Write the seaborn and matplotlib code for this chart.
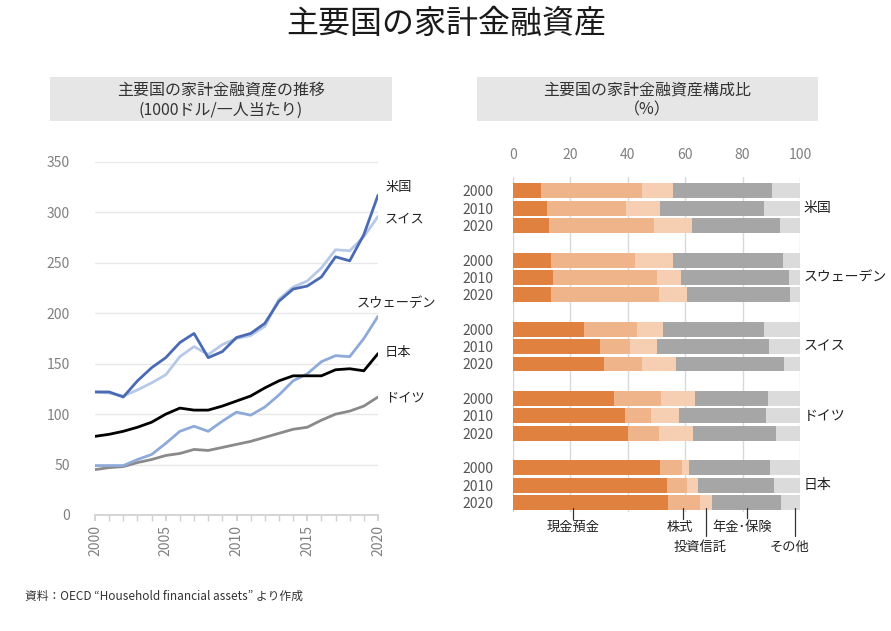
import numpy as np
import pandas as pd
import matplotlib
matplotlib.use("Agg")
import matplotlib.pyplot as plt
from matplotlib.patches import Rectangle
from matplotlib.ticker import MultipleLocator
import seaborn as sns

# ---------------- data ----------------
years = list(range(2000, 2021))
us = [122, 122, 117, 133, 146, 156, 171, 180, 156, 162, 176, 180, 190, 212, 224, 227, 236, 256, 252, 278, 317]
swiss = [122, 121, 118, 124, 131, 139, 157, 167, 159, 169, 175, 178, 187, 214, 226, 232, 245, 263, 262, 276, 296]
sweden = [49, 49, 49, 55, 60, 71, 83, 88, 83, 93, 102, 99, 107, 119, 133, 140, 152, 158, 157, 175, 197]
japan = [78, 80, 83, 87, 92, 100, 106, 104, 104, 108, 113, 118, 126, 133, 138, 138, 138, 144, 145, 143, 160]
germany = [45, 47, 48, 52, 55, 59, 61, 65, 64, 67, 70, 73, 77, 81, 85, 87, 94, 100, 103, 108, 117]
line_countries = ["ドイツ", "スウェーデン", "日本", "スイス", "米国"]
line_values = [germany, sweden, japan, swiss, us]

bar_countries = ["米国", "スウェーデン", "スイス", "ドイツ", "日本"]
bar_years = ["2000", "2010", "2020"]
categories = ["現金預金", "株式", "投資信託", "年金･保険", "その他"]
# shares (%) per country/year, order: cash, stocks, funds, pension, other
cash = [9.9, 12.0, 12.4, 13.1, 14.0, 13.1, 24.8, 30.2, 31.7, 35.1, 39.1, 39.9, 51.2, 53.5, 54.1]
stocks = [34.9, 27.5, 36.8, 29.3, 36.2, 37.8, 18.5, 10.7, 13.2, 16.4, 8.9, 11.1, 7.6, 7.0, 11.0]
funds = [11.0, 11.8, 13.0, 13.2, 8.3, 9.6, 8.8, 9.3, 12.0, 11.8, 9.9, 11.7, 2.6, 4.0, 4.1]
pension = [34.5, 36.3, 30.7, 38.6, 37.5, 36.0, 35.3, 38.9, 37.6, 25.4, 30.2, 28.9, 28.0, 26.5, 24.1]
other = [9.7, 12.4, 7.1, 5.8, 4.0, 3.5, 12.6, 10.9, 5.5, 11.3, 11.9, 8.4, 10.6, 9.0, 6.7]

line_colors = {"米国": "#4a6ab4", "スイス": "#b7c9e8", "スウェーデン": "#8eaad9",
               "日本": "#000000", "ドイツ": "#8a8a8a"}
seg_colors = ["#e0813f", "#f0b48b", "#f6cfb3", "#a6a6a6", "#dbdbdb"]

# ---------------- style ----------------
sns.set_theme(style="white")
plt.rcParams["font.family"] = ["Noto Sans CJK JP", "DejaVu Sans"]

W, H = 891, 631
fig = plt.figure(figsize=(W / 100, H / 100), dpi=100)
fig.patch.set_facecolor("white")

def fx(px):
    return px / W

def fy(py):
    return 1 - py / H

# title
fig.text(fx(446), fy(24), "主要国の家計金融資産", ha="center", va="center",
         fontsize=23, color="#1a1a1a")

# subtitle boxes
for (x0, x1) in [(50, 392), (477, 818)]:
    fig.patches.append(Rectangle((fx(x0), fy(121)), fx(x1) - fx(x0), fy(77) - fy(121),
                                 transform=fig.transFigure, facecolor="#e6e6e6",
                                 edgecolor="none", zorder=0))
fig.text(fx(221), fy(90), "主要国の家計金融資産の推移", ha="center", va="center",
         fontsize=11.5, color="#333333")
fig.text(fx(221), fy(110), "(1000ドル/一人当たり)", ha="center", va="center",
         fontsize=11.5, color="#333333")
fig.text(fx(647), fy(90), "主要国の家計金融資産構成比", ha="center", va="center",
         fontsize=11.5, color="#333333")
fig.text(fx(647), fy(110), "（%）", ha="center", va="center",
         fontsize=11.5, color="#333333")

# ---------------- left: line chart ----------------
ax1 = fig.add_axes([fx(95), fy(515), fx(378) - fx(95), fy(162) - fy(515)])
rows = []
for c, vals in zip(line_countries, line_values):
    for y, v in zip(years, vals):
        rows.append({"year": y, "value": v, "country": c})
ldf = pd.DataFrame(rows)
sns.lineplot(data=ldf, x="year", y="value", hue="country", hue_order=line_countries,
             palette=line_colors, linewidth=2.0, legend=False, ax=ax1)
ax1.set_xlim(2000, 2020)
ax1.set_ylim(0, 350)
ax1.set_xlabel("")
ax1.set_ylabel("")
ax1.yaxis.set_major_locator(MultipleLocator(50))
ax1.xaxis.set_major_locator(MultipleLocator(5))
ax1.xaxis.set_minor_locator(MultipleLocator(1))
ax1.grid(axis="y", color="#e8e8e8", linewidth=1.0)
ax1.set_axisbelow(True)
for s in ["left", "top", "right"]:
    ax1.spines[s].set_visible(False)
ax1.spines["bottom"].set_color("#d0d0d0")
ax1.tick_params(axis="x", which="both", bottom=True, direction="out", length=4,
                color="#d0d0d0", labelrotation=90, labelsize=10, labelcolor="#808080", pad=3)
ax1.tick_params(axis="y", left=False, labelsize=10, labelcolor="#808080", pad=12)

label_pos = {"米国": (2020.5, 325, "left"), "スイス": (2020.5, 294, "left"),
             "スウェーデン": (2021.3, 210, "center"), "日本": (2020.5, 161, "left"),
             "ドイツ": (2020.5, 116, "left")}
for c, (x, y, ha) in label_pos.items():
    ax1.text(x, y, c, ha=ha, va="center", fontsize=9.5, color="#222222", clip_on=False)

# ---------------- right: stacked bar chart ----------------
ax2 = fig.add_axes([fx(513), fy(512), fx(800) - fx(513), fy(177) - fy(512)])
brows = []
for gi, c in enumerate(bar_countries):
    for yi, yr in enumerate(bar_years):
        k = gi * 3 + yi
        parts = [cash[k], stocks[k], funds[k], pension[k], other[k]]
        cum = np.cumsum(parts)
        for si, cat in enumerate(categories):
            brows.append({"pos": gi * 4 + yi, "country": c, "year": yr,
                          "cat": cat, "cum": cum[si]})
bdf = pd.DataFrame(brows)
for si in range(len(categories) - 1, -1, -1):
    sub = bdf[bdf["cat"] == categories[si]]
    sns.barplot(data=sub, x="cum", y="pos", orient="h", native_scale=True,
                color=seg_colors[si], saturation=1, width=0.86, errorbar=None,
                linewidth=0, ax=ax2)
ax2.set_xlim(0, 100)
ax2.set_ylim(18.55, -0.8)
ax2.set_xlabel("")
ax2.set_ylabel("")
ax2.xaxis.set_major_locator(MultipleLocator(20))
ax2.xaxis.tick_top()
ax2.tick_params(axis="x", top=False, bottom=False, labelsize=10, labelcolor="#808080", pad=5)
ypos = sorted(bdf["pos"].unique())
ax2.set_yticks(ypos)
ax2.set_yticklabels([bar_years[p % 4] for p in ypos])
ax2.tick_params(axis="y", left=False, labelsize=10, labelcolor="#555555", pad=8)
ax2.grid(axis="x", color="#d9d9d9", linewidth=1.0)
ax2.grid(axis="y", visible=False)
ax2.set_axisbelow(True)
for s in ax2.spines.values():
    s.set_visible(False)

for gi, c in enumerate(bar_countries):
    ax2.text(101.2, gi * 4 + 1, c, ha="left", va="center", fontsize=10,
             color="#222222", clip_on=False)

# category annotations below the last bar
ann = [("現金預金", 21.0, 18.98, 19.42), ("株式", 59.2, 18.98, 19.42),
       ("投資信託", 67.3, 19.95, 20.62), ("年金･保険", 81.6, 18.9, 19.42),
       ("その他", 98.2, 19.95, 20.62)]
text_x = {"現金預金": 21.0, "株式": 58.0, "投資信託": 65.2, "年金･保険": 80.0, "その他": 96.5}
for name, x, yend, ytext in ann:
    ax2.plot([x, x], [18.3, yend], color="#333333", linewidth=0.9, clip_on=False)
    ax2.text(text_x[name], ytext, name, ha="center", va="center", fontsize=9.5,
             color="#222222", clip_on=False)

# footnote
fig.text(fx(25), fy(596), "資料：OECD “Household financial assets” より作成",
         ha="left", va="center", fontsize=8.5, color="#333333")

fig.savefig("out.png", dpi=100, facecolor="white")
